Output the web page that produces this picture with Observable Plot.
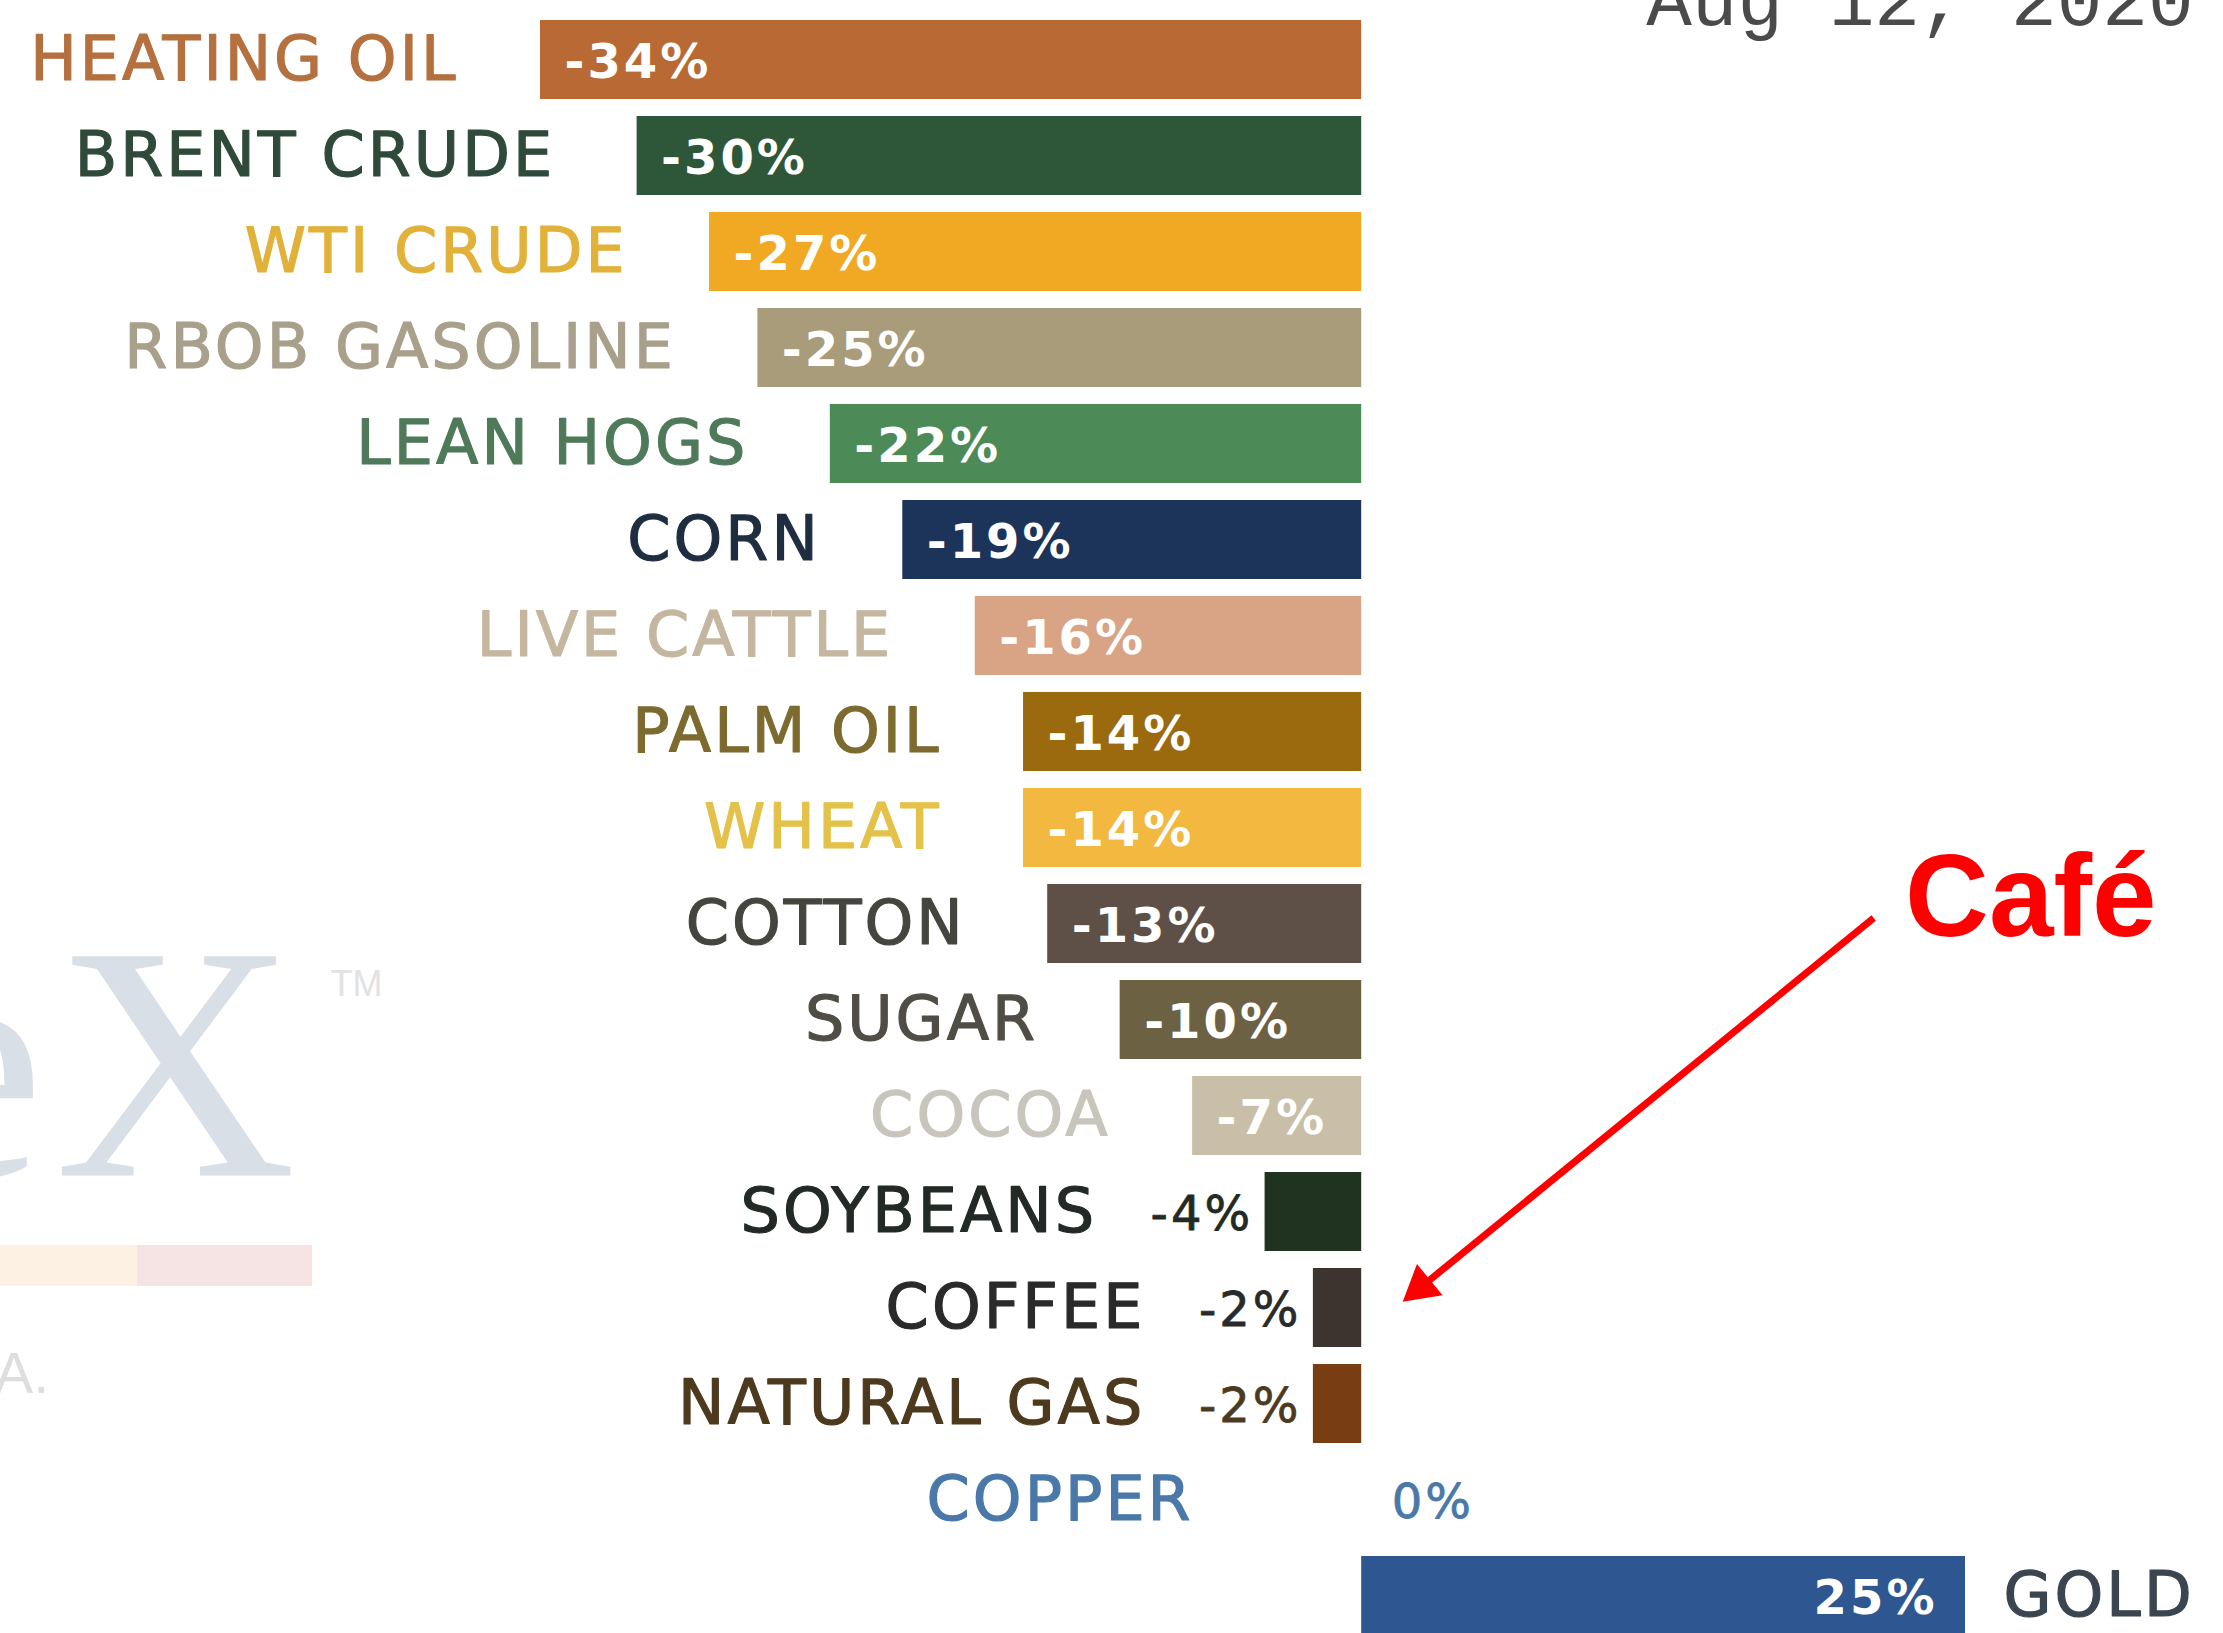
<!DOCTYPE html>
<html>
<head>
<meta charset="utf-8">
<script src="https://cdn.jsdelivr.net/npm/d3@7"></script>
<script src="https://cdn.jsdelivr.net/npm/@observablehq/plot@0.6"></script>
<style>
  html, body { margin: 0; padding: 0; background: #fff; overflow: hidden; }
  #wrap { position: relative; width: 2223px; height: 1633px; overflow: hidden; }
  g[font-size="62"] text { letter-spacing: 3px; }
  g[font-size="48"] text { letter-spacing: 3px; }
  .deco { position: absolute; pointer-events: none; }
</style>
</head>
<body>
<div id="wrap"></div>
<script>
// ---- data ----
const commodities = [
  "HEATING OIL", "BRENT CRUDE", "WTI CRUDE", "RBOB GASOLINE", "LEAN HOGS",
  "CORN", "LIVE CATTLE", "PALM OIL", "WHEAT", "COTTON", "SUGAR", "COCOA",
  "SOYBEANS", "COFFEE", "NATURAL GAS", "COPPER", "GOLD"
];
const changes = [-34, -30, -27, -25, -22, -19, -16, -14, -14, -13, -10, -7, -4, -2, -2, 0, 25];
const dateLabel = "Aug 12, 2020";
const noteText = "Café";
const noteFrom = "COTTON";
const noteTarget = "COFFEE";

// ---- styles ----
const barColors = [
  "#b96a34", "#2e5638", "#f1a823", "#a99c7a", "#4c8a57",
  "#1c3459", "#d9a486", "#9b6a0e", "#f2b83f", "#5e5046", "#6c6243", "#c9bfa9",
  "#1f3320", "#3d342f", "#793d12", "#b87333", "#2e5690"
];
const labelColors = [
  "#b5703f", "#2f4a3a", "#e2b13a", "#a9a08c", "#4f7a5a",
  "#1f2d40", "#c5b6a0", "#7d6a2e", "#e4c24a", "#454540", "#4f4d45", "#c8c6bc",
  "#232a25", "#2a2a2a", "#4d3a1e", "#4a78a8", "#3a4550"
];

const data = commodities.map((name, i) => ({
  name, value: changes[i], bar: barColors[i], ink: labelColors[i]
}));
const fmt = d => `${d.value}%`;
const fits = d => Math.abs(d.value) >= 7;

const neg = data.filter(d => d.value < 0);
const negIn = neg.filter(fits);
const negOut = neg.filter(d => !fits(d));
const zero = data.filter(d => d.value === 0);
const pos = data.filter(d => d.value > 0);

const note = [{x1: 21.2, y1: noteFrom, x2: 1.7, y2: noteTarget, tx: 22.5}];

const labelFont = "DejaVu Sans, Verdana, sans-serif";

const chart = Plot.plot({
  width: 2223,
  height: 1633,
  margin: 0,
  x: {domain: [-34, 25], range: [540, 1965], axis: null},
  y: {domain: commodities, range: [-3.4, 1658.9], padding: 0.18, axis: null},
  color: {type: "identity"},
  style: {background: "#fff", fontFamily: labelFont},
  marks: [
    // watermark
    Plot.text(["e"], {frameAnchor: "top-left", lineAnchor: "bottom", textAnchor: "end",
      dx: 44, dy: 1175, fontFamily: "Liberation Serif", fontSize: 335, fill: "#d9dfe6"}),
    Plot.text(["X"], {frameAnchor: "top-left", lineAnchor: "bottom", textAnchor: "start",
      dx: 54, dy: 1175, fontFamily: "Liberation Serif", fontSize: 335, fill: "#d9dfe6"}),
    Plot.text(["TM"], {frameAnchor: "top-left", lineAnchor: "bottom", textAnchor: "start",
      dx: 330, dy: 995, fontFamily: "Liberation Sans", fontSize: 36, fill: "#e2e2e2"}),
    Plot.text(["A."], {frameAnchor: "top-left", lineAnchor: "bottom", textAnchor: "start",
      dx: -6, dy: 1392, fontFamily: "Liberation Sans", fontSize: 58, fill: "#dedede"}),

    // bars
    Plot.barX(data, {x: "value", y: "name", fill: "bar"}),

    // value labels
    Plot.text(negIn, {x: "value", y: "name", text: fmt, textAnchor: "start", dx: 24, dy: 3,
      fill: "white", fontWeight: "bold", fontSize: 48}),
    Plot.text(negOut, {x: "value", y: "name", text: fmt, textAnchor: "end", dx: -12, dy: 3,
      fill: "ink", stroke: "ink", strokeWidth: 0.8, fontSize: 48}),
    Plot.text(zero, {x: "value", y: "name", text: fmt, textAnchor: "start", dx: 30, dy: 3,
      fill: "ink", stroke: "ink", strokeWidth: 0.8, fontSize: 48}),
    Plot.text(pos, {x: "value", y: "name", text: fmt, textAnchor: "end", dx: -28, dy: 3,
      fill: "white", fontWeight: "bold", fontSize: 48}),

    // category labels
    Plot.text(negIn, {x: "value", y: "name", text: "name", textAnchor: "end", dx: -82,
      fill: "ink", stroke: "ink", strokeWidth: 1.2, fontSize: 62}),
    Plot.text([...negOut, ...zero], {x: "value", y: "name", text: "name", textAnchor: "end", dx: -168,
      fill: "ink", stroke: "ink", strokeWidth: 1.2, fontSize: 62}),
    Plot.text(pos, {x: "value", y: "name", text: "name", textAnchor: "start", dx: 38,
      fill: "ink", stroke: "ink", strokeWidth: 1.2, fontSize: 62}),

    // date
    Plot.text([dateLabel], {frameAnchor: "top-right", lineAnchor: "middle", textAnchor: "end",
      text: d => d, dx: -30, fontFamily: "Liberation Mono", fontSize: 76, fill: "#4a4a4a"}),

    // annotation
    Plot.arrow(note, {x1: "x1", y1: "y1", x2: "x2", y2: "y2", stroke: "#ff0000",
      strokeWidth: 7, headLength: 0, insetEnd: 22, dy: -6, strokeLinecap: "butt"}),
    Plot.dot(note, {x: "x2", y: "y2", symbol: "triangle", r: 15, fill: "#ff0000", stroke: "none",
      rotate: 230.7, dx: 18, dy: -21}),
    Plot.text(note, {x: "tx", y: "y1", text: () => noteText, textAnchor: "start", dy: -25,
      fontFamily: "Liberation Sans, Arial, sans-serif", fontWeight: "bold", fontSize: 116, fill: "#ff0000"})
  ]
});

const wrap = document.getElementById("wrap");
wrap.appendChild(chart);

// faint watermark bands
const bands = [
  {left: 0, width: 137, color: "#fdf1e4"},
  {left: 137, width: 175, color: "#f6e3e4"}
];
for (const b of bands) {
  const div = document.createElement("div");
  div.className = "deco";
  div.style.left = b.left + "px";
  div.style.top = "1245px";
  div.style.width = b.width + "px";
  div.style.height = "41px";
  div.style.background = b.color;
  wrap.appendChild(div);
}
</script>
</body>
</html>
